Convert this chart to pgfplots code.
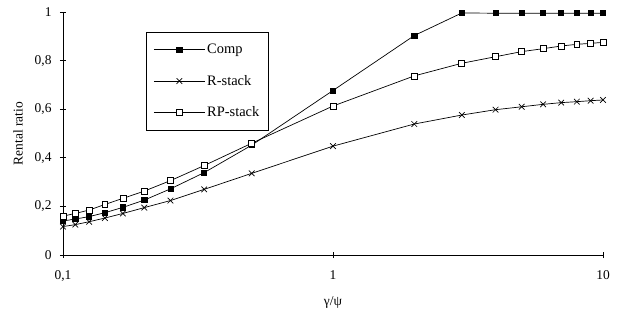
\documentclass[border=0pt]{standalone}
\usepackage{pgfplots}
\pgfplotsset{compat=1.18}
\usepackage{fontspec}
\setmainfont{Liberation Serif}
\begin{document}
\begin{tikzpicture}
\begin{axis}[
  scale only axis, width=540bp, height=243bp,
  xmode=log, xmin=0.1, xmax=10, ymin=0, ymax=1,
  axis lines=left, axis line style={-, line width=0.7pt},
  xtick={0.1,1,10}, xticklabels={{0,1},1,10},
  minor x tick style={draw=none},
  ytick={0,0.2,0.4,0.6,0.8,1}, yticklabels={0,{0,2},{0,4},{0,6},{0,8},1},
  tick align=center, major tick length=6bp,
  tick style={black, line width=0.7pt},
  xlabel={γ/ψ}, ylabel={Rental ratio},
  label style={font=\fontsize{13.5}{16}\selectfont},
  ticklabel style={font=\fontsize{13.5}{16}\selectfont},
  xticklabel style={yshift=-9bp},
  yticklabel style={xshift=-5bp},
  xlabel style={at={(axis description cs:0.5,-0.195)}, anchor=center},
  ylabel style={at={(axis description cs:-0.0833,0.5)}, anchor=center},
  legend style={at={(0.154,0.918)}, anchor=north west, draw=black, line width=0.7pt,
    font=\fontsize{14.5}{17}\selectfont, row sep=16bp, inner xsep=7bp, inner ysep=10bp},
  legend cell align=left,
  legend image code/.code={\draw[mark repeat=2,mark phase=2,#1] plot coordinates {(0cm,0cm) (0.9cm,0cm) (1.8cm,0cm)};},
]
\addplot[black, line width=0.7pt, mark=square*, mark size=2.6pt, mark options={fill=black}] coordinates {
(0.1,0.140) (0.1111,0.148) (0.125,0.158) (0.1429,0.174) (0.1667,0.196) (0.2,0.226) (0.25,0.272) (0.3333,0.339) (0.5,0.452) (1,0.677) (2,0.903) (3,0.996) (4,0.995) (5,0.995) (6,0.995) (7,0.995) (8,0.995) (9,0.995) (10,0.995)};
\addlegendentry{Comp}
\addplot[black, line width=0.7pt, mark=x, mark size=4pt] coordinates {
(0.1,0.117) (0.1111,0.125) (0.125,0.137) (0.1429,0.152) (0.1667,0.171) (0.2,0.195) (0.25,0.224) (0.3333,0.270) (0.5,0.336) (1,0.448) (2,0.539) (3,0.576) (4,0.598) (5,0.610) (6,0.620) (7,0.627) (8,0.631) (9,0.635) (10,0.638)};
\addlegendentry{R-stack}
\addplot[black, line width=0.7pt, mark=square*, mark size=3pt, mark options={fill=white}] coordinates {
(0.1,0.160) (0.1111,0.171) (0.125,0.185) (0.1429,0.208) (0.1667,0.233) (0.2,0.263) (0.25,0.306) (0.3333,0.368) (0.5,0.460) (1,0.613) (2,0.737) (3,0.789) (4,0.816) (5,0.837) (6,0.849) (7,0.860) (8,0.867) (9,0.871) (10,0.875)};
\addlegendentry{RP-stack}
\coordinate (sw) at (rel axis cs:0,0);
\coordinate (ne) at (rel axis cs:1,1);
\end{axis}
\pgfresetboundingbox
\path ([shift={(-63bp,-56bp)}]sw) rectangle ([shift={(14bp,12bp)}]ne);
\end{tikzpicture}
\end{document}
